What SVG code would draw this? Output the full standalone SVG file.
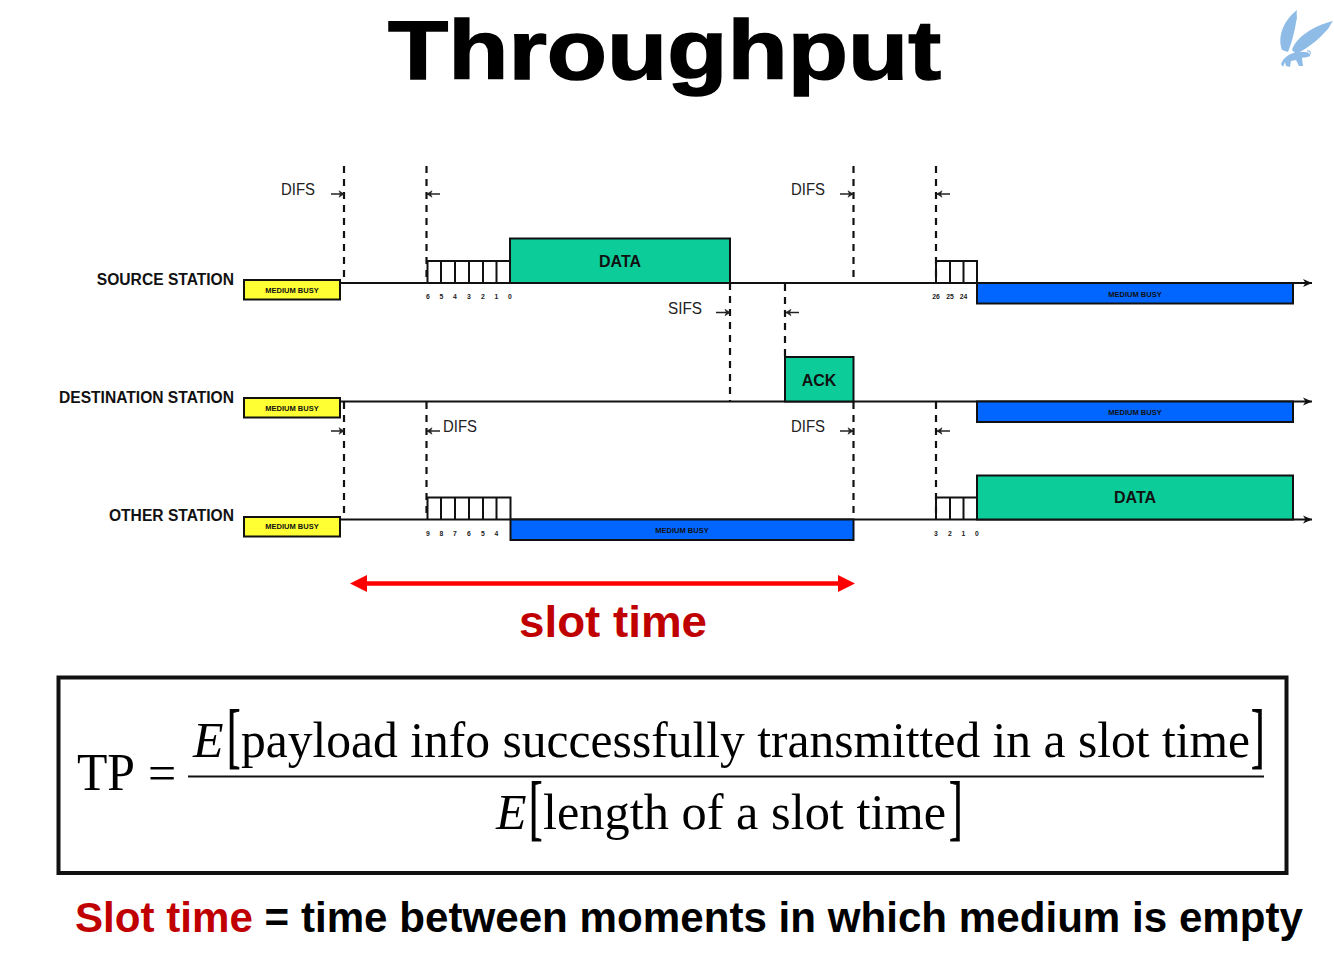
<svg xmlns="http://www.w3.org/2000/svg" width="1334" height="960" viewBox="0 0 1334 960">
<style>
text{font-family:"Liberation Sans",Arial,sans-serif;fill:#000}
.b{font-weight:bold}
.st{font-weight:bold;font-size:15.6px;text-anchor:end;fill:#111}
.dl{font-size:16px;fill:#222}
.mb{font-weight:bold;font-size:7.5px;text-anchor:middle;fill:#111}
.n{font-weight:bold;font-size:6.8px;text-anchor:middle;fill:#222}
.bl{font-weight:bold;font-size:16px;text-anchor:middle;fill:#111}
.box{stroke:#111;stroke-width:2}
.y{fill:#ffff33}.m{fill:#0066ff}.g{fill:#0ccc9a}
.line{stroke:#111;stroke-width:1.8;fill:none}
.dash{stroke:#111;stroke-width:2.200;stroke-dasharray:7 6;fill:none}
.dim{stroke:#222;stroke-width:1.500;fill:none}
.slot{stroke:#111;stroke-width:2;fill:none}
.m1{font-family:"Liberation Serif","Times New Roman",serif}
.br{stroke:#000;stroke-width:.9}
</style>
<defs>
<marker id="ah" markerWidth="10" markerHeight="10" refX="9" refY="5" orient="auto" markerUnits="userSpaceOnUse"><path d="M0 1L9 5L0 9L2.500 5Z" fill="#111"/></marker>
<marker id="ad" markerWidth="8" markerHeight="8" refX="6" refY="4" orient="auto" markerUnits="userSpaceOnUse"><path d="M1 .8L6 4L1 7.200L2.500 4Z" fill="#222" stroke="#222" stroke-width=".6"/></marker>
</defs>
<rect width="1334" height="960" fill="#fff"/>
<g id="title"><text class="b" x="388" y="79" font-size="84" textLength="553" lengthAdjust="spacingAndGlyphs" stroke="#000" stroke-width="1.500">Throughput</text></g>
<g id="logo" fill="#8fbce6">
<path d="M1282 50C1277 36 1284 20 1297 10C1296 16 1298 17 1296 22C1295 30 1292 42 1288 52Z"/>
<path d="M1292 50C1296 38 1312 26 1333 21C1329 26 1330 28 1325 32C1318 40 1308 48 1296 54Z"/>
<path d="M1281 64C1284 56 1292 52 1300 52C1306 52 1309 51 1310 56C1306 58 1304 57 1302 58L1303 66L1299 66L1296 60L1291 61L1290 67L1286 66L1285 62L1283 67Z"/>
<path d="M1302 56C1312 58 1312 50 1307 51" fill="none" stroke="#8fbce6" stroke-width="1.200"/>
</g>
<g id="connectors">
<path class="line" d="M341 283H1312" marker-end="url(#ah)"/>
<path class="line" d="M341 401.500H1312" marker-end="url(#ah)"/>
<path class="line" d="M341 519.500H1312" marker-end="url(#ah)"/>
<path class="dash" d="M344 166V283"/><path class="dash" d="M426.500 166V283"/><path class="dash" d="M853.500 166V283"/><path class="dash" d="M936 166V283"/>
<path class="dash" d="M730 283V401"/><path class="dash" d="M785 284V357"/>
<path class="dash" d="M344 402V519"/><path class="dash" d="M426.500 402V519"/><path class="dash" d="M853.500 402V519"/><path class="dash" d="M936 402V519"/>
<path class="dim" d="M331 194H344" marker-end="url(#ad)"/><path class="dim" d="M440 194H427" marker-end="url(#ad)"/>
<path class="dim" d="M840 194H853" marker-end="url(#ad)"/><path class="dim" d="M950 194H937" marker-end="url(#ad)"/>
<path class="dim" d="M716 312.500H730" marker-end="url(#ad)"/><path class="dim" d="M799 312.500H786" marker-end="url(#ad)"/>
<path class="dim" d="M331 431H344" marker-end="url(#ad)"/><path class="dim" d="M440 431H427" marker-end="url(#ad)"/>
<path class="dim" d="M840 431H853" marker-end="url(#ad)"/><path class="dim" d="M950 431H937" marker-end="url(#ad)"/>
<path d="M367 583.500H838" stroke="#ff0000" stroke-width="4.500" fill="none"/>
<path d="M367 575L350 583.500L367 592Z" fill="#ff0000"/><path d="M838 575L855 583.500L838 592Z" fill="#ff0000"/>
</g>
<g id="source-station">
<text class="st" x="234" y="285">SOURCE STATION</text>
<rect class="box y" x="244" y="280" width="96" height="19.500"/><text class="mb" x="292" y="293">MEDIUM BUSY</text>
<path class="slot" d="M427.500 283V261H510M441 261V283M455 261V283M469 261V283M483 261V283M496.500 261V283"/>
<rect class="box g" x="510" y="238.500" width="220" height="44.500"/><text class="bl" x="620" y="267">DATA</text>
<path class="slot" d="M936 283V261H977V283M950 261V283M963.500 261V283"/>
<rect class="box m" x="977" y="283" width="316" height="20.500"/><text class="mb" x="1135" y="297">MEDIUM BUSY</text>
<g><text class="n" x="428" y="299">6</text><text class="n" x="441.500" y="299">5</text><text class="n" x="455" y="299">4</text><text class="n" x="469" y="299">3</text><text class="n" x="483" y="299">2</text><text class="n" x="496.500" y="299">1</text><text class="n" x="510" y="299">0</text><text class="n" x="936" y="299">26</text><text class="n" x="950" y="299">25</text><text class="n" x="963.500" y="299">24</text></g>
</g>
<g id="destination-station">
<text class="st" x="234" y="403">DESTINATION STATION</text>
<rect class="box y" x="244" y="398" width="96" height="19.500"/><text class="mb" x="292" y="411">MEDIUM BUSY</text>
<rect class="box g" x="785" y="357" width="68.500" height="44.500"/><text class="bl" x="819" y="386">ACK</text>
<rect class="box m" x="977" y="401.500" width="316" height="20.500"/><text class="mb" x="1135" y="415">MEDIUM BUSY</text>
</g>
<g id="other-station">
<text class="st" x="234" y="521">OTHER STATION</text>
<rect class="box y" x="244" y="517" width="96" height="19.500"/><text class="mb" x="292" y="529">MEDIUM BUSY</text>
<path class="slot" d="M427.500 519.500V497.500H510.500V519.500M441 497.500V519.500M455 497.500V519.500M469 497.500V519.500M483 497.500V519.500M496.500 497.500V519.500"/>
<rect class="box m" x="510.500" y="519.500" width="343" height="20.500"/><text class="mb" x="682" y="533">MEDIUM BUSY</text>
<path class="slot" d="M936 519.500V497.500H977M950 497.500V519.500M963.500 497.500V519.500"/>
<rect class="box g" x="977" y="475.500" width="316" height="44"/><text class="bl" x="1135" y="503">DATA</text>
<g><text class="n" x="428" y="536">9</text><text class="n" x="441.500" y="536">8</text><text class="n" x="455" y="536">7</text><text class="n" x="469" y="536">6</text><text class="n" x="483" y="536">5</text><text class="n" x="496.500" y="536">4</text><text class="n" x="936" y="536">3</text><text class="n" x="950" y="536">2</text><text class="n" x="963.500" y="536">1</text><text class="n" x="977" y="536">0</text></g>
</g>
<g id="interval-labels">
<text class="dl" x="281" y="195" textLength="34" lengthAdjust="spacingAndGlyphs">DIFS</text><text class="dl" x="791" y="195" textLength="34" lengthAdjust="spacingAndGlyphs">DIFS</text><text class="dl" x="668" y="314" textLength="34" lengthAdjust="spacingAndGlyphs">SIFS</text><text class="dl" x="443" y="432" textLength="34" lengthAdjust="spacingAndGlyphs">DIFS</text><text class="dl" x="791" y="432" textLength="34" lengthAdjust="spacingAndGlyphs">DIFS</text>
</g>
<g id="slot-time-label"><text class="b" x="519" y="637" font-size="44" textLength="188" lengthAdjust="spacingAndGlyphs" style="fill:#c00000">slot time</text></g>
<g id="formula">
<rect x="58.500" y="677.500" width="1228" height="195.500" fill="none" stroke="#111" stroke-width="4"/>
<text class="m1" x="77" y="790" font-size="52" textLength="58" lengthAdjust="spacingAndGlyphs">TP</text>
<text class="m1" x="148" y="790" font-size="50">=</text>
<text class="m1" x="193" y="757" font-size="50" font-style="italic">E</text>
<text class="m1 br" x="227" y="759" font-size="72" textLength="13.500" lengthAdjust="spacingAndGlyphs">[</text>
<text class="m1" x="241" y="757" font-size="50" textLength="1009" lengthAdjust="spacingAndGlyphs">payload info successfully transmitted in a slot time</text>
<text class="m1 br" x="1251" y="759" font-size="72" textLength="13.500" lengthAdjust="spacingAndGlyphs">]</text>
<path d="M188 776.500H1264" stroke="#111" stroke-width="2"/>
<text class="m1" x="496" y="829" font-size="50" font-style="italic">E</text>
<text class="m1 br" x="529" y="831" font-size="72" textLength="13.500" lengthAdjust="spacingAndGlyphs">[</text>
<text class="m1" x="543" y="829" font-size="50" textLength="403" lengthAdjust="spacingAndGlyphs">length of a slot time</text>
<text class="m1 br" x="949" y="831" font-size="72" textLength="13.500" lengthAdjust="spacingAndGlyphs">]</text>
</g>
<g id="definition"><text class="b" x="75" y="932" font-size="43" textLength="1228" lengthAdjust="spacingAndGlyphs"><tspan style="fill:#c00000">Slot time</tspan> = time between moments in which medium is empty</text></g>
</svg>
